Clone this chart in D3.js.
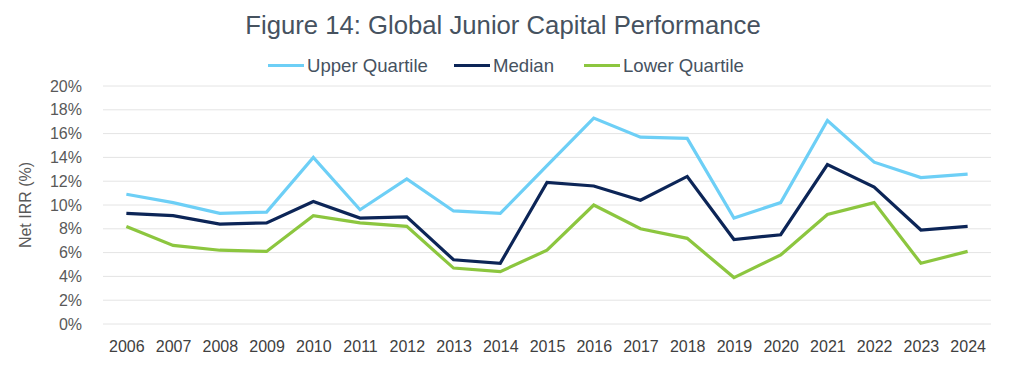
<!DOCTYPE html>
<html>
<head>
<meta charset="utf-8">
<script src="https://cdn.jsdelivr.net/npm/d3@7"></script>
<style>
  body { margin: 0; background: #fff; }
  text { font-family: "Liberation Sans", Arial, sans-serif; }
</style>
</head>
<body>
<div id="chart"></div>
<script>
var years = ["2006","2007","2008","2009","2010","2011","2012","2013","2014","2015",
             "2016","2017","2018","2019","2020","2021","2022","2023","2024"];
var upperQuartile = [10.9, 10.2, 9.3, 9.4, 14.0, 9.6, 12.2, 9.5, 9.3, 13.3,
                     17.3, 15.7, 15.6, 8.9, 10.2, 17.1, 13.6, 12.3, 12.6];
var median = [9.3, 9.1, 8.4, 8.5, 10.3, 8.9, 9.0, 5.4, 5.1, 11.9,
              11.6, 10.4, 12.4, 7.1, 7.5, 13.4, 11.5, 7.9, 8.2];
var lowerQuartile = [8.2, 6.6, 6.2, 6.1, 9.1, 8.5, 8.2, 4.7, 4.4, 6.2,
                     10.0, 8.0, 7.2, 3.9, 5.8, 9.2, 10.2, 5.1, 6.1];
var yTicks = [0, 2, 4, 6, 8, 10, 12, 14, 16, 18, 20];

var series = [
    { name: "Upper Quartile", values: upperQuartile, color: "#6dcff6" },
    { name: "Median", values: median, color: "#0c2557" },
    { name: "Lower Quartile", values: lowerQuartile, color: "#8cc63f" }
];

var svgWidth = 1024, svgHeight = 370;
var margin = { top: 86, right: 33, bottom: 46, left: 103 };
var width = svgWidth - margin.left - margin.right;
var height = svgHeight - margin.top - margin.bottom;

var svg = d3.select("#chart").append("svg")
    .attr("width", svgWidth)
    .attr("height", svgHeight);

// Title
svg.append("text")
    .attr("x", 503)
    .attr("y", 34)
    .attr("text-anchor", "middle")
    .attr("font-size", "25.7px")
    .attr("fill", "#46525f")
    .text("Figure 14: Global Junior Capital Performance");

var g = svg.append("g")
    .attr("transform", "translate(" + margin.left + "," + margin.top + ")");

var x = d3.scalePoint()
    .domain(years)
    .range([0, width])
    .padding(0.5);

var y = d3.scaleLinear()
    .domain([0, 20])
    .range([height, 0]);

// Gridlines
g.append("g")
    .attr("class", "grid")
    .selectAll("line")
    .data(yTicks)
    .enter()
    .append("line")
    .attr("x1", 0)
    .attr("x2", width)
    .attr("y1", function(d) { return y(d); })
    .attr("y2", function(d) { return y(d); })
    .attr("stroke", "#e4e4e4")
    .attr("stroke-width", 1);

// Y axis
var yAxis = d3.axisLeft(y)
    .tickValues(yTicks)
    .tickSize(0)
    .tickPadding(21)
    .tickFormat(function(d) { return d + "%"; });

var yAxisGroup = g.append("g").call(yAxis);
yAxisGroup.select(".domain").remove();
yAxisGroup.selectAll("text")
    .attr("font-size", "16px")
    .attr("fill", "#595959");

// X axis
var xAxis = d3.axisBottom(x)
    .tickSize(0)
    .tickPadding(17);

var xAxisGroup = g.append("g")
    .attr("transform", "translate(0," + height + ")")
    .call(xAxis);
xAxisGroup.select(".domain").remove();
xAxisGroup.selectAll("text")
    .attr("font-size", "16px")
    .attr("fill", "#404040");

// Y label
svg.append("text")
    .attr("transform", "translate(31," + (margin.top + height / 2) + ") rotate(-90)")
    .attr("text-anchor", "middle")
    .attr("font-size", "16px")
    .attr("fill", "#595959")
    .text("Net IRR (%)");

// Lines
var line = d3.line()
    .x(function(d, i) { return x(years[i]); })
    .y(function(d) { return y(d); });

g.selectAll(".series")
    .data(series)
    .enter()
    .append("path")
    .attr("class", "series")
    .attr("fill", "none")
    .attr("stroke", function(d) { return d.color; })
    .attr("stroke-width", 3.2)
    .attr("stroke-linejoin", "miter")
    .attr("d", function(d) { return line(d.values); });

// Legend
var legendX = [268, 454, 584];
var legend = svg.append("g").attr("class", "legend");
series.forEach(function(s, i) {
    var item = legend.append("g")
        .attr("transform", "translate(" + legendX[i] + ",65.5)");
    item.append("line")
        .attr("x1", 0).attr("x2", 36)
        .attr("y1", 0).attr("y2", 0)
        .attr("stroke", s.color)
        .attr("stroke-width", 3.2);
    item.append("text")
        .attr("x", 39)
        .attr("y", 6.5)
        .attr("font-size", "18.6px")
        .attr("fill", "#46525f")
        .text(s.name);
});
</script>
</body>
</html>
